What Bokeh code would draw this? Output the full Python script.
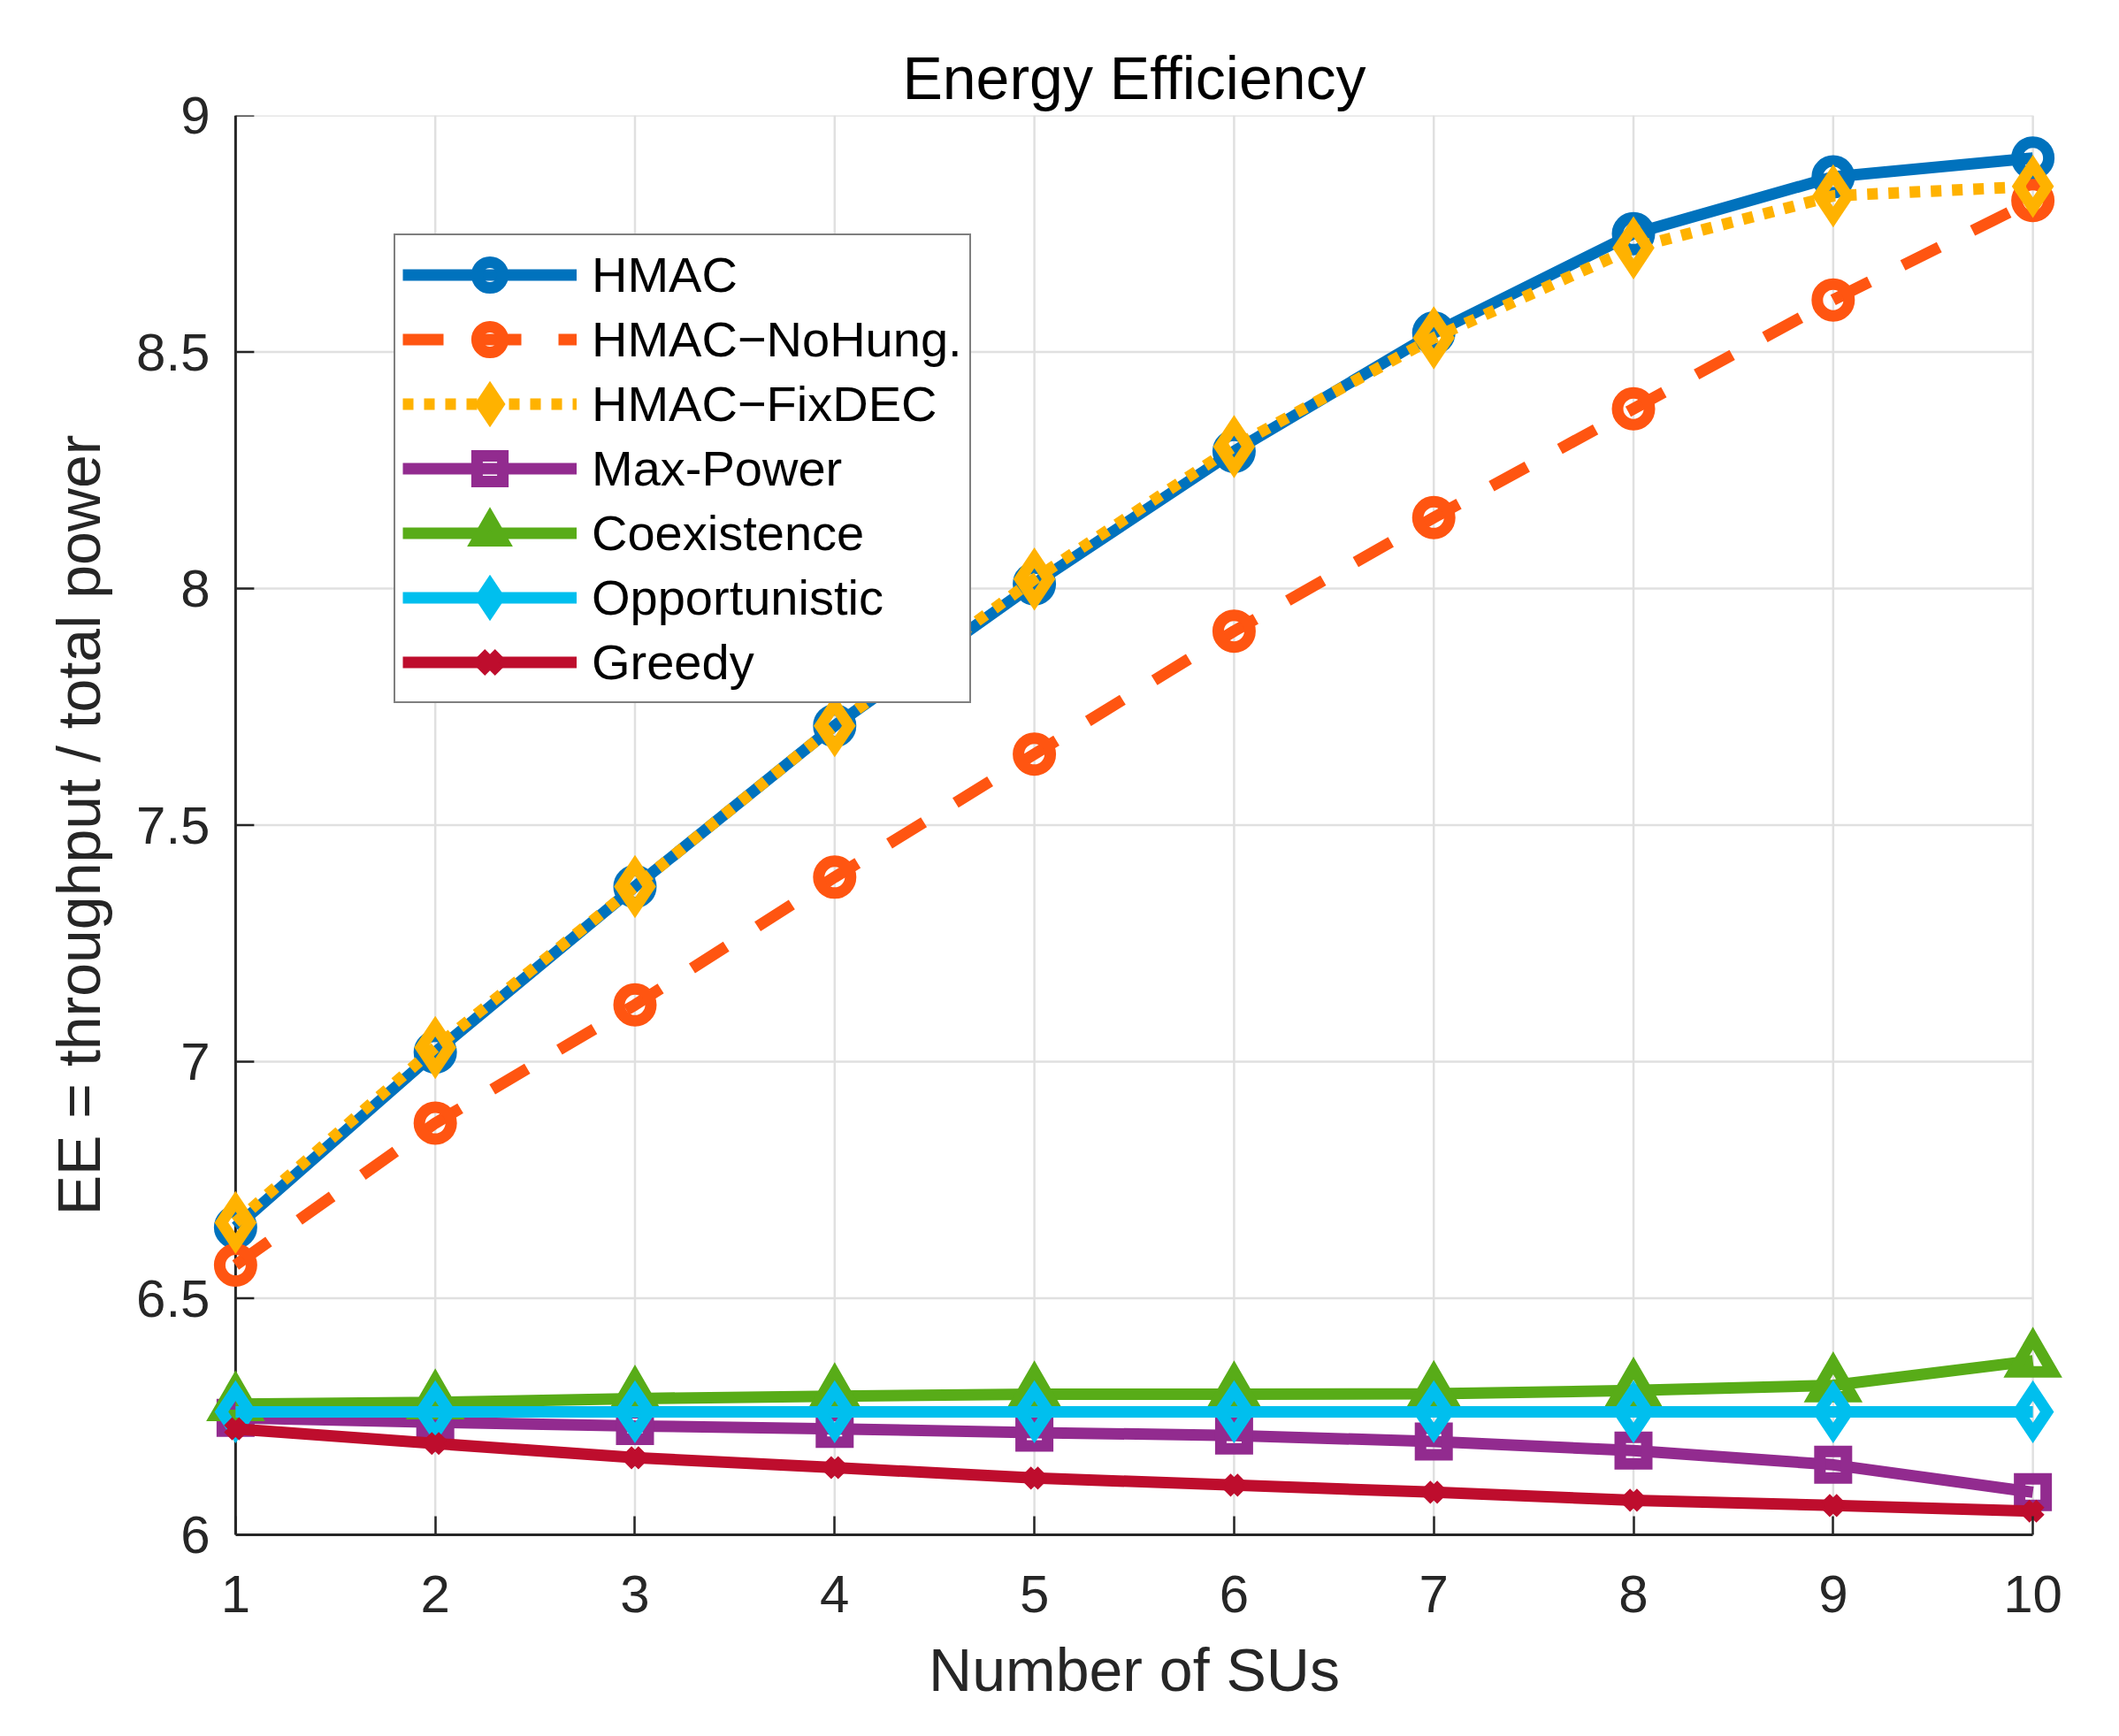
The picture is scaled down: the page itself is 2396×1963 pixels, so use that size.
from bokeh.plotting import figure
from bokeh.models import Range1d, FixedTicker, NumeralTickFormatter, Legend, LegendItem, Span
from bokeh.embed import file_html
from bokeh.resources import INLINE

# ---- data ----
X = [1, 2, 3, 4, 5, 6, 7, 8, 9, 10]
HMAC = [6.65, 7.02, 7.37, 7.71, 8.01, 8.29, 8.54, 8.75, 8.87, 8.91]
HMAC_NOHUNG = [6.57, 6.87, 7.12, 7.39, 7.65, 7.91, 8.15, 8.38, 8.61, 8.82]
HMAC_FIXDEC = [6.66, 7.03, 7.37, 7.71, 8.02, 8.30, 8.53, 8.72, 8.83, 8.85]
MAX_POWER = [6.247, 6.238, 6.230, 6.224, 6.216, 6.210, 6.197, 6.178, 6.148, 6.090]
COEXISTENCE = [6.276, 6.280, 6.288, 6.293, 6.297, 6.297, 6.298, 6.305, 6.316, 6.368]
OPPORTUNISTIC = [6.26, 6.26, 6.26, 6.26, 6.26, 6.26, 6.26, 6.26, 6.26, 6.26]
GREEDY = [6.224, 6.193, 6.163, 6.142, 6.120, 6.105, 6.090, 6.073, 6.062, 6.050]

X_TICKS = [1, 2, 3, 4, 5, 6, 7, 8, 9, 10]
Y_TICKS = [6, 6.5, 7, 7.5, 8, 8.5, 9]

LABELS = ["HMAC", "HMAC\u2212NoHung.", "HMAC\u2212FixDEC", "Max-Power",
          "Coexistence", "Opportunistic", "Greedy"]
SERIES = [HMAC, HMAC_NOHUNG, HMAC_FIXDEC, MAX_POWER, COEXISTENCE, OPPORTUNISTIC, GREEDY]
COLORS = ["#0072BD", "#FF5511", "#FFB200", "#922B8F", "#58AC18", "#00BFEE", "#BE0D2D"]
MARKERS = ["circle", "circle", "diamond", "square", "triangle", "diamond", "x"]
MSIZES = [36, 36, 48, 30, 44, 48, 24]
DASHES = ["solid", "46 42", "12 12", "solid", "solid", "solid", "solid"]

FONT = "Liberation Sans"
DARK = "#262626"
GRID = "#E0E0E0"
PAD = 0.15
FRAME_W = 2100
FRAME_H = 1605
TICK_PX = 21
LW = 13
TICK_DX = TICK_PX * (X_TICKS[-1] - X_TICKS[0] + 2 * PAD) / FRAME_W

p = figure(frame_width=FRAME_W, frame_height=FRAME_H,
           x_range=Range1d(X_TICKS[0] - PAD, X_TICKS[-1] + PAD),
           y_range=Range1d(Y_TICKS[0], Y_TICKS[-1]),
           output_backend="svg", toolbar_location=None,
           min_border_left=232, min_border_right=50,
           min_border_top=130, min_border_bottom=200,
           background_fill_color="white", border_fill_color="white",
           title="Energy Efficiency")
p.outline_line_color = None
p.xgrid.visible = False
p.ygrid.visible = False

# grid lines (bounded to the axes extent)
p.segment(x0=X_TICKS, y0=[Y_TICKS[0]] * len(X_TICKS), x1=X_TICKS, y1=[Y_TICKS[-1]] * len(X_TICKS),
          line_color=GRID, line_width=2.5, level="underlay")
p.segment(x0=[X_TICKS[0]] * len(Y_TICKS), y0=Y_TICKS, x1=[X_TICKS[-1]] * len(Y_TICKS), y1=Y_TICKS,
          line_color=GRID, line_width=2.5, level="underlay")

# y axis line and inward ticks at x = 1
p.add_layout(Span(location=X_TICKS[0], dimension="height", line_color=DARK,
                  line_width=3, level="underlay"))
p.segment(x0=[X_TICKS[0]] * len(Y_TICKS), y0=Y_TICKS,
          x1=[X_TICKS[0] + TICK_DX] * len(Y_TICKS), y1=Y_TICKS,
          line_color=DARK, line_width=2.5, level="underlay")

# title
p.title.text_font = FONT
p.title.text_font_size = "68px"
p.title.text_font_style = "normal"
p.title.text_color = "black"
p.title.align = "center"
p.title.standoff = 10

# axes
for ax in (p.xaxis[0], p.yaxis[0]):
    ax.axis_line_color = DARK
    ax.axis_line_width = 3
    ax.major_tick_line_color = DARK
    ax.major_tick_line_width = 2.5
    ax.major_tick_in = TICK_PX
    ax.major_tick_out = 0
    ax.minor_tick_line_color = None
    ax.major_label_text_font = FONT
    ax.major_label_text_font_size = "60px"
    ax.major_label_text_color = DARK
    ax.axis_label_text_font = FONT
    ax.axis_label_text_font_size = "68px"
    ax.axis_label_text_font_style = "normal"
    ax.axis_label_text_color = DARK

p.xaxis[0].ticker = FixedTicker(ticks=X_TICKS)
p.xaxis[0].bounds = (X_TICKS[0], X_TICKS[-1])
p.xaxis[0].axis_label = "Number of SUs"
p.xaxis[0].major_label_standoff = 46
p.xaxis[0].axis_label_standoff = 24

p.yaxis[0].ticker = FixedTicker(ticks=Y_TICKS)
p.yaxis[0].formatter = NumeralTickFormatter(format="0.[0]")
p.yaxis[0].axis_line_color = None
p.yaxis[0].major_tick_line_color = None
p.yaxis[0].major_tick_in = 0
p.yaxis[0].axis_label = "EE = throughput / total power"
p.yaxis[0].major_label_standoff = -5
p.yaxis[0].axis_label_standoff = 24

items = []
for lab, ys, col, mk, ms, dash in zip(LABELS, SERIES, COLORS, MARKERS, MSIZES, DASHES):
    l = p.line(X, ys, line_color=col, line_width=LW, line_dash=dash)
    s = p.scatter(X, ys, marker=mk, size=ms, line_color=col, line_width=LW,
                  line_join="miter", fill_alpha=0)
    items.append(LegendItem(label=lab, renderers=[l, s]))

legend = Legend(items=items, location=(213, 940), margin=0, padding=8,
                spacing=0, glyph_width=197, glyph_height=73, label_standoff=17,
                label_height=60,
                label_text_font=FONT, label_text_font_size="56px",
                label_text_color="black",
                border_line_color="black", border_line_width=2,
                background_fill_color="white", background_fill_alpha=1)
p.add_layout(legend)

open("out.html", "w").write(file_html(p, INLINE, "Energy Efficiency"))
